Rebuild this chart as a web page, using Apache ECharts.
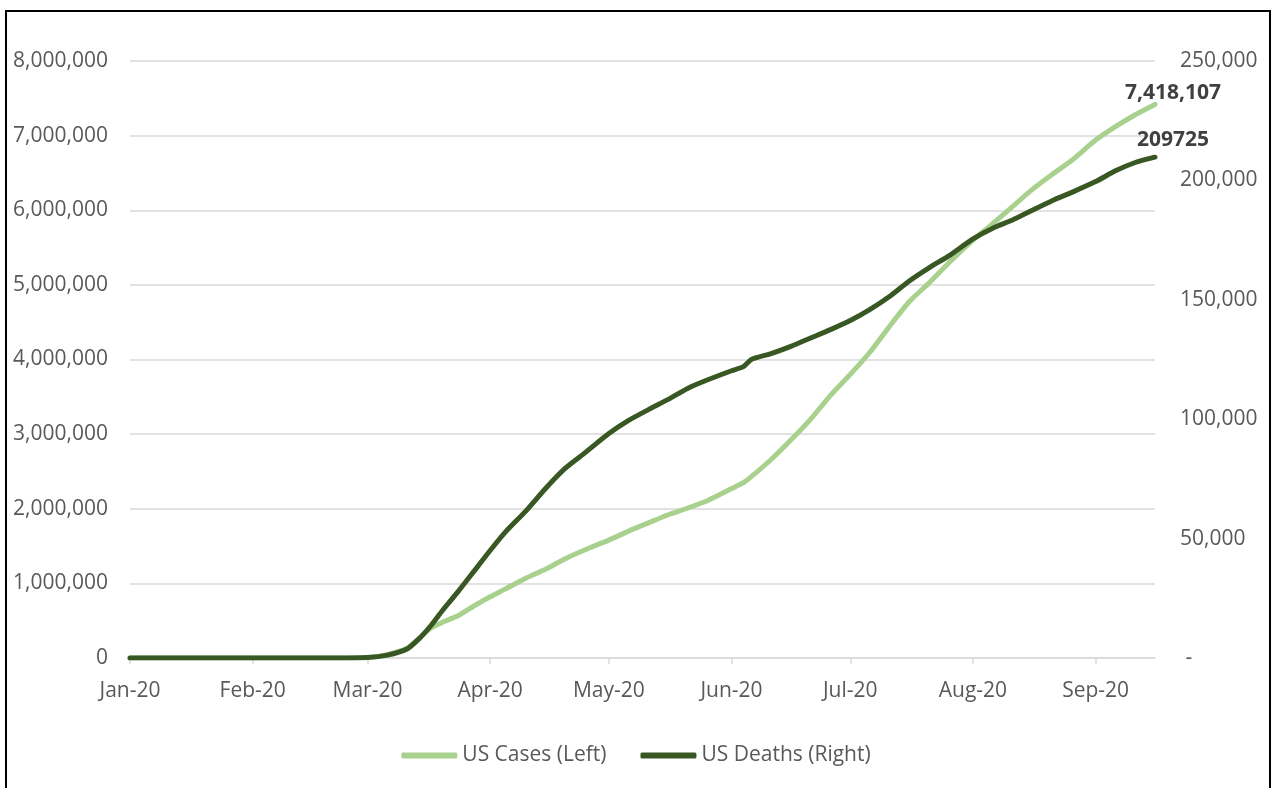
<!DOCTYPE html>
<html>
<head>
<meta charset="utf-8">
<title>US Cases and Deaths</title>
<script src="https://cdn.jsdelivr.net/npm/echarts@6/dist/echarts.min.js"></script>
<style>
  html, body { margin: 0; padding: 0; background: #ffffff; }
  #chart { width: 1272px; height: 788px; }
</style>
</head>
<body>
<div id="chart"></div>
<script>
// Observation dates (2020)
const dates = [
  '2020-01-01', '2020-02-01', '2020-02-20', '2020-03-01', '2020-03-06',
  '2020-03-11', '2020-03-14', '2020-03-17', '2020-03-20', '2020-03-24',
  '2020-03-28', '2020-04-01', '2020-04-05', '2020-04-10', '2020-04-15',
  '2020-04-20', '2020-04-25', '2020-05-01', '2020-05-06', '2020-05-11',
  '2020-05-16', '2020-05-21', '2020-05-26', '2020-06-01', '2020-06-04',
  '2020-06-06', '2020-06-11', '2020-06-16', '2020-06-21', '2020-06-26',
  '2020-07-01', '2020-07-06', '2020-07-11', '2020-07-16', '2020-07-21',
  '2020-07-26', '2020-08-01', '2020-08-06', '2020-08-11', '2020-08-16',
  '2020-08-21', '2020-08-26', '2020-09-01', '2020-09-06', '2020-09-11',
  '2020-09-16'
];

// Cumulative US cases (left axis)
const usCases = [
  0, 0, 0, 5000, 45000,
  130000, 260000, 400000, 480000, 570000,
  700000, 820000, 930000, 1070000, 1190000,
  1330000, 1450000, 1580000, 1700000, 1810000,
  1920000, 2010000, 2110000, 2270000, 2350000,
  2430000, 2660000, 2920000, 3200000, 3520000,
  3800000, 4100000, 4450000, 4780000, 5030000,
  5300000, 5600000, 5820000, 6050000, 6280000,
  6480000, 6670000, 6940000, 7120000, 7280000,
  7418107
];

// Cumulative US deaths (right axis)
const usDeaths = [
  0, 0, 0, 200, 1200,
  3800, 8000, 13500, 20000, 28000,
  36500, 45000, 53000, 61500, 71000,
  79500, 86000, 94000, 99500, 104000,
  108300, 113000, 116500, 120300, 122000,
  125000, 127500, 130500, 134000, 137500,
  141300, 146000, 151500, 158000, 163500,
  168500, 175500, 180000, 183400, 187500,
  191500, 195000, 199500, 204000, 207500,
  209725
];

const monthNames = ['Jan', 'Feb', 'Mar', 'Apr', 'May', 'Jun', 'Jul', 'Aug', 'Sep', 'Oct', 'Nov', 'Dec'];
const seriesNames = ['US Cases (Left)', 'US Deaths (Right)'];

const FONT = '"Open Sans", "DejaVu Sans", sans-serif';
const GREY = '#595959';
const LIGHT_GREEN = '#A9D18E';
const DARK_GREEN = '#385723';

const lastIdx = dates.length - 1;
const fmtComma = v => Math.round(v).toString().replace(/\B(?=(\d{3})+(?!\d))/g, ',');

const chart = echarts.init(document.getElementById('chart'), null, { renderer: 'canvas' });

chart.setOption({
  backgroundColor: '#ffffff',
  animation: false,
  textStyle: { fontFamily: FONT },
  graphic: [{
    type: 'rect',
    shape: { x: 6, y: 11, width: 1264, height: 800 },
    style: { fill: 'none', stroke: '#000000', lineWidth: 2 },
    silent: true,
    z: 100
  }],
  grid: { left: 130, right: 117, top: 61, bottom: 130, containLabel: false },
  legend: {
    bottom: 17,
    left: 'center',
    icon: 'roundRect',
    itemWidth: 56,
    itemHeight: 6,
    itemGap: 34,
    textStyle: { color: GREY, fontSize: 21, fontFamily: FONT },
    data: seriesNames
  },
  xAxis: {
    type: 'time',
    min: dates[0],
    max: dates[lastIdx],
    splitNumber: 9,
    minInterval: 28 * 24 * 3600 * 1000,
    maxInterval: 31 * 24 * 3600 * 1000,
    axisLine: { show: true, lineStyle: { color: '#d9d9d9', width: 1.5 } },
    axisTick: { show: true, length: 6, lineStyle: { color: '#d9d9d9', width: 1.5 } },
    splitLine: { show: false },
    axisLabel: {
      color: GREY,
      fontSize: 21,
      fontFamily: FONT,
      fontWeight: 'normal',
      margin: 23,
      hideOverlap: false,
      formatter: function (value) {
        const d = new Date(value);
        return monthNames[d.getMonth()] + '-' + String(d.getFullYear()).slice(2);
      }
    }
  },
  yAxis: [{
    type: 'value',
    position: 'left',
    min: 0,
    max: 8000000,
    interval: 1000000,
    axisLine: { show: false },
    axisTick: { show: false },
    splitLine: { show: true, lineStyle: { color: '#d9d9d9', width: 1.5 } },
    axisLabel: {
      color: GREY,
      fontSize: 21,
      fontFamily: FONT,
      margin: 22,
      formatter: v => fmtComma(v)
    }
  }, {
    type: 'value',
    position: 'right',
    min: 0,
    max: 250000,
    interval: 50000,
    axisLine: { show: false },
    axisTick: { show: false },
    splitLine: { show: false },
    axisLabel: {
      color: GREY,
      fontSize: 21,
      fontFamily: FONT,
      margin: 25,
      formatter: v => (v === 0 ? ' -' : fmtComma(v))
    }
  }],
  series: [{
    name: seriesNames[0],
    type: 'line',
    yAxisIndex: 0,
    data: dates.map((d, i) => [d, usCases[i]]),
    showSymbol: false,
    smooth: 0.2,
    lineStyle: { color: LIGHT_GREEN, width: 5, cap: 'round', join: 'round' },
    itemStyle: { color: LIGHT_GREEN },
    z: 2,
    markPoint: {
      symbol: 'circle',
      symbolSize: 1,
      itemStyle: { color: 'rgba(0,0,0,0)' },
      label: {
        show: true,
        position: 'inside',
        offset: [18, -11],
        color: '#404040',
        fontSize: 21,
        fontWeight: 'bold',
        fontFamily: FONT,
        formatter: p => fmtComma(p.value)
      },
      data: [{ coord: [dates[lastIdx], usCases[lastIdx]], value: usCases[lastIdx] }]
    }
  }, {
    name: seriesNames[1],
    type: 'line',
    yAxisIndex: 1,
    data: dates.map((d, i) => [d, usDeaths[i]]),
    showSymbol: false,
    smooth: 0.2,
    lineStyle: { color: DARK_GREEN, width: 5, cap: 'round', join: 'round' },
    itemStyle: { color: DARK_GREEN },
    z: 3,
    markPoint: {
      symbol: 'circle',
      symbolSize: 1,
      itemStyle: { color: 'rgba(0,0,0,0)' },
      label: {
        show: true,
        position: 'inside',
        offset: [18, -17],
        color: '#404040',
        fontSize: 21,
        fontWeight: 'bold',
        fontFamily: FONT,
        formatter: p => String(p.value)
      },
      data: [{ coord: [dates[lastIdx], usDeaths[lastIdx]], value: usDeaths[lastIdx] }]
    }
  }]
});
</script>
</body>
</html>
